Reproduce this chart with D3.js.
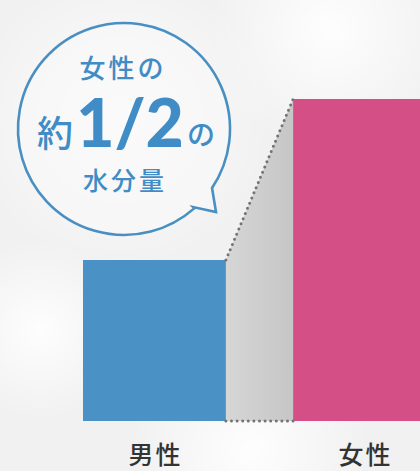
<!DOCTYPE html>
<html><head><meta charset="utf-8">
<script src="https://cdn.jsdelivr.net/npm/d3@7"></script>
<style>html,body{margin:0;padding:0;overflow:hidden;background:#f2f2f2}</style>
</head><body>
<script>
const categories = ["男性", "女性"];
const values = [50, 100];
const barColors = ["#4a91c6", "#d44f85"];
const bubbleLines = ["女性の", "約", "1/2", "の", "水分量"];

const W = 420, H = 471;
const svg = d3.select("body").append("svg").attr("width", W).attr("height", H);
const defs = svg.append("defs");

// background
const bg = defs.append("radialGradient").attr("id", "bgA").attr("cx", "0.5").attr("cy", "0.5").attr("r", "0.5");
bg.append("stop").attr("offset", "0").attr("stop-color", "#ffffff").attr("stop-opacity", 0.9);
bg.append("stop").attr("offset", "1").attr("stop-color", "#ffffff").attr("stop-opacity", 0);
svg.append("rect").attr("width", W).attr("height", H).attr("fill", "#f1f1f1");
[[120, 120, 150], [330, 30, 120], [40, 330, 90], [250, 450, 120], [380, 300, 90]].forEach(([cx, cy, r]) => {
  svg.append("circle").attr("cx", cx).attr("cy", cy).attr("r", r).attr("fill", "url(#bgA)");
});

const x = d3.scaleBand().domain(categories).range([83, 436]).paddingInner(0.32).paddingOuter(0);
const y = d3.scaleLinear().domain([0, 100]).range([421, 99]);

// grey connector
const gg = defs.append("linearGradient").attr("id", "gg").attr("x1", "0").attr("x2", "1");
gg.append("stop").attr("offset", "0").attr("stop-color", "#d6d6d6");
gg.append("stop").attr("offset", "1").attr("stop-color", "#c6c6c6");
const x0 = x(categories[0]) + x.bandwidth(), x1 = x(categories[1]);
svg.append("path")
  .attr("d", `M${x0},${y(values[0])}L${x1},${y(values[1])}L${x1},${y(0)}L${x0},${y(0)}Z`)
  .attr("fill", "url(#gg)");

// bars
svg.selectAll("rect.bar").data(categories).enter().append("rect")
  .attr("class", "bar")
  .attr("x", d => x(d)).attr("width", x.bandwidth())
  .attr("y", (d, i) => y(values[i])).attr("height", (d, i) => y(0) - y(values[i]))
  .attr("fill", (d, i) => barColors[i]);

// dotted lines
const dot = { stroke: "#737373", "stroke-width": 3, "stroke-linecap": "round", "stroke-dasharray": "0 5.6", fill: "none" };
function dotted(p) { const s = svg.append("path").attr("d", p); Object.entries(dot).forEach(([k, v]) => s.attr(k, v)); }
dotted(`M${x0},${y(values[0])}L${x1},${y(values[1])}`);
dotted(`M${x0},${y(0)}L${x1},${y(0)}`);

// category labels
svg.selectAll("text.cat").data(categories).enter().append("text")
  .attr("class", "cat")
  .attr("x", d => x(d) + x.bandwidth() / 2 + 1).attr("y", 453)
  .attr("text-anchor", "middle").attr("dominant-baseline", "central")
  .attr("font-family", "'Noto Sans CJK JP', sans-serif").attr("font-weight", 500)
  .attr("font-size", 25).attr("letter-spacing", 2).attr("fill", "#333")
  .text(d => d);

// speech bubble
const cx = 124, cy = 129, r = 106;
const A = [212, 188], T = [216, 212], B = [193, 207];
const angA = Math.atan2(A[1] - cy, A[0] - cx), angB = Math.atan2(B[1] - cy, B[0] - cx);
const pathB = d3.path();
pathB.moveTo(B[0], B[1]);
pathB.arc(cx, cy, r, angB, angA + 2 * Math.PI, false);
pathB.lineTo(T[0], T[1]);
pathB.closePath();
svg.append("path").attr("d", pathB.toString())
  .attr("fill", "#f8f8f8").attr("fill-opacity", 0.6)
  .attr("stroke", "#4a8fc2").attr("stroke-width", 2.6).attr("stroke-linejoin", "miter");

const blue = "#3f8cc6";
const jp = "'Noto Sans CJK JP', sans-serif";
function t(txt, xx, yy, size, opts = {}) {
  const e = svg.append("text").attr("x", xx).attr("y", yy)
    .attr("text-anchor", opts.anchor || "middle").attr("dominant-baseline", "central")
    .attr("font-family", opts.family || jp).attr("font-weight", opts.weight || 500)
    .attr("font-size", size).attr("fill", blue).text(txt);
  if (opts.ls) e.attr("letter-spacing", opts.ls);
  return e;
}
t(bubbleLines[0], 123, 66, 26, { ls: 3 });
t(bubbleLines[1], 55, 131, 36);
t(bubbleLines[2], 130, 121, 66, { family: "Lato, Inter, sans-serif", weight: 900, ls: 0 });
t(bubbleLines[3], 201, 133, 28);
t(bubbleLines[4], 125, 179, 25, { ls: 3 });
</script>
</body></html>
